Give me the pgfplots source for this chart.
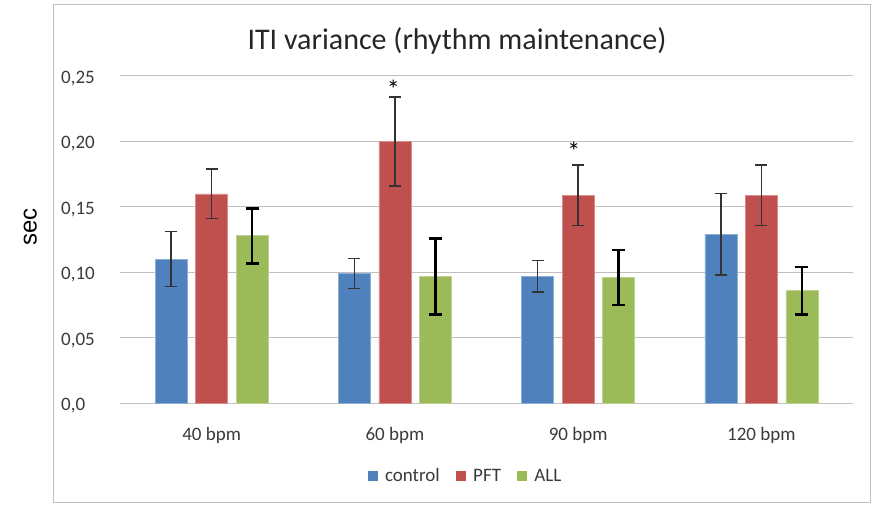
\documentclass[border=0pt]{standalone}
\usepackage{pgfplots}
\pgfplotsset{compat=1.18}
\usepackage{fontspec}
\setmainfont{Carlito}
\newfontfamily\arialfont{Liberation Sans}
\definecolor{cblue}{HTML}{4F81BD}
\definecolor{cred}{HTML}{C0504D}
\definecolor{cgreen}{HTML}{9BBB59}
\definecolor{gridgray}{HTML}{BFBFBF}
\definecolor{txt}{HTML}{3A3A3A}
\pgfplotstableread{
x y e
0 0.110 0.021
1 0.099 0.0115
2 0.097 0.012
3 0.129 0.031
}\control
\pgfplotstableread{
x y e
0 0.160 0.019
1 0.200 0.034
2 0.159 0.023
3 0.159 0.023
}\pft
\pgfplotstableread{
x y e
0 0.128 0.021
1 0.097 0.029
2 0.096 0.021
3 0.086 0.018
}\all
\begin{document}
\begin{tikzpicture}[x=1pt,y=1pt]
\path[use as bounding box] (0,0) rectangle (878,505);
\draw[gridgray, line width=1pt] (53,2.7) rectangle (870.7,500);
\node[anchor=base, inner sep=0pt, font=\fontsize{30}{36}\selectfont, text=black!85] at (457,455) {ITI variance (rhythm maintenance)};
\node[rotate=90, inner sep=0pt, font=\arialfont\fontsize{24}{28}\selectfont, text=black] at (30.2,278) {sec};
\begin{axis}[
  at={(120pt,101.7pt)}, anchor=south west,
  scale only axis, width=733pt, height=327.3pt,
  xmin=-0.5, xmax=3.5, ymin=0, ymax=0.25,
  enlargelimits=false, clip=false,
  axis line style={draw=none},
  major tick length=0pt,
  ymajorgrids, grid style={gridgray, line width=1pt},
  xtick={0,1,2,3},
  xticklabels={40 bpm,60 bpm,90 bpm,120 bpm},
  ytick={0,0.05,0.1,0.15,0.2,0.25},
  yticklabels={{0,0},{0,05},{0,10},{0,15},{0,20},{0,25}},
  tick label style={font=\fontsize{19}{22}\selectfont, text=txt, inner sep=0pt},
  xticklabel style={anchor=base, yshift=-37.4pt},
  yticklabel style={anchor=base west, xshift=-59pt, yshift=-7.3pt},
  /pgf/number format/assume math mode=true,
  ybar, bar width=32pt,
  legend style={at={(0.47,-0.222)}, anchor=center, legend columns=3,
    draw=none, fill=none, font=\fontsize{19}{22}\selectfont, text=txt,
    nodes={inner sep=0pt},
    /tikz/every odd column/.append style={column sep=8pt},
    /tikz/every even column/.append style={column sep=16pt}},
]
\addplot[forget plot, fill=cblue, draw=cblue!65!white, line width=0.6pt, bar shift=-40.5pt,
  error bars/.cd, y dir=both, y explicit,
  error bar style={line width=1.3pt, color=black!80},
  error mark options={rotate=90, line width=1.3pt, color=black!80, mark size=6pt}]
  table[x=x, y=y, y error=e] {\control};
\addplot[forget plot, fill=cred, draw=cred!65!white, line width=0.6pt, bar shift=0pt,
  error bars/.cd, y dir=both, y explicit,
  error bar style={line width=1.3pt, color=black!80},
  error mark options={rotate=90, line width=1.3pt, color=black!80, mark size=6pt}]
  table[x=x, y=y, y error=e] {\pft};
\addplot[forget plot, fill=cgreen, draw=cgreen!65!white, line width=0.6pt, bar shift=40.5pt,
  error bars/.cd, y dir=both, y explicit,
  error bar style={line width=2.6pt, color=black},
  error mark options={rotate=90, line width=2.6pt, color=black, mark size=6.5pt}]
  table[x=x, y=y, y error=e] {\all};
\addlegendimage{legend image code/.code={\fill[cblue] (0pt,-4.5pt) rectangle (9pt,4.5pt);}}
\addlegendentry{control}
\addlegendimage{legend image code/.code={\fill[cred] (0pt,-4.5pt) rectangle (9pt,4.5pt);}}
\addlegendentry{PFT}
\addlegendimage{legend image code/.code={\fill[cgreen] (0pt,-4.5pt) rectangle (9pt,4.5pt);}}
\addlegendentry{ALL}
\node[font=\fontsize{26}{26}\selectfont, inner sep=0pt] at (axis cs:0.991,0.2395) {*};
\node[font=\fontsize{26}{26}\selectfont, inner sep=0pt] at (axis cs:1.977,0.1925) {*};
\end{axis}
\end{tikzpicture}
\end{document}
